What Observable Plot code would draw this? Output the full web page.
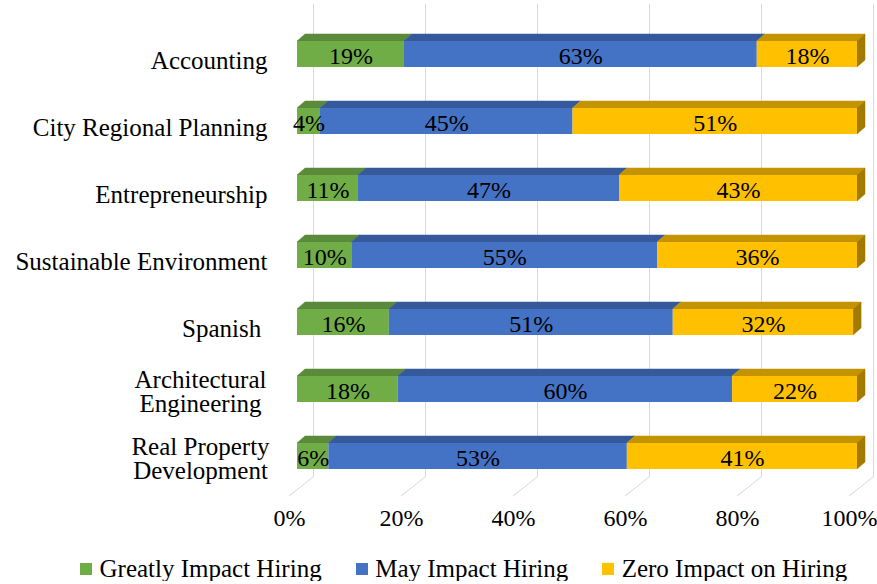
<!DOCTYPE html>
<html>
<head>
<meta charset="utf-8">
<script src="https://cdn.jsdelivr.net/npm/d3@7"></script>
<script src="https://cdn.jsdelivr.net/npm/@observablehq/plot@0.6"></script>
<style>
  html, body { margin: 0; padding: 0; background: #fff; }
  #chart { width: 877px; }
  .legend { display: flex; align-items: center; margin-top: 8px; padding-left: 80px;
            font-family: "Liberation Serif", "Times New Roman", serif; font-size: 25px; line-height: 25px; color: #000; }
  .legend .item { display: flex; align-items: center; margin-right: 34px; white-space: nowrap; }
  .legend .sw { width: 12px; height: 12px; margin-right: 7.5px; display: inline-block; }
</style>
</head>
<body>
<div id="chart"></div>
<script>
// ---- data ----
const categories = [
  "Accounting",
  "City Regional Planning",
  "Entrepreneurship",
  "Sustainable Environment",
  "Spanish ",
  "Architectural\nEngineering",
  "Real Property\nDevelopment"
];
const series = ["Greatly Impact Hiring", "May Impact Hiring", "Zero Impact on Hiring"];
const greatlyImpact = [19.1, 4.1, 10.9, 9.7, 16.4, 18.0, 5.6];
const mayImpact     = [63.0, 45.1, 46.6, 54.6, 50.7, 59.7, 53.3];
const zeroImpact    = [17.9, 50.8, 42.5, 35.7, 32.2, 22.3, 41.1];
const xTicks = [0, 0.2, 0.4, 0.6, 0.8, 1.0];

// ---- styles ----
const frontColors = ["#70ad47", "#4472c4", "#ffc000"];
const topColors   = ["#5a8a3a", "#36599b", "#c49400"];
const sideColors  = ["#4d7a31", "#2e4d86", "#a27a00"];
const gridColor = "#d9d9d9";
const DX = 8, DY = 7;           // bar depth offsets (px)
const GB = 16, GF = -8, GD = 19; // gridline back/front offsets and floor depth

// ---- table built from arrays ----
const valuesBySeries = [greatlyImpact, mayImpact, zeroImpact];
const table = [];
categories.forEach((cat, i) => {
  let acc = 0;
  valuesBySeries.forEach((vals, si) => {
    const v = vals[i] / 100;
    table.push({cat, series: series[si], si, value: vals[i], x1: acc, x2: acc + v, last: si === valuesBySeries.length - 1});
    acc += v;
  });
});

const singleLine = categories.filter(c => !c.includes("\n"));
const multiLine = categories.filter(c => c.includes("\n"));

function faces(index, scales, values, dims) {
  const x = scales.x, y = scales.y;
  const bw = typeof y.bandwidth === "function" ? y.bandwidth() : y.bandwidth;
  const g = d3.create("svg:g");
  for (const d of table) {
    const xa = x(d.x1), xb = x(d.x2), yt = y(d.cat);
    g.append("polygon")
      .attr("points", [[xa, yt], [xb, yt], [xb + DX, yt - DY], [xa + DX, yt - DY]].map(p => p.join(",")).join(" "))
      .attr("fill", topColors[d.si]).attr("stroke", topColors[d.si]).attr("stroke-width", 0.5);
    if (d.last) {
      g.append("polygon")
        .attr("points", [[xb, yt], [xb, yt + bw], [xb + DX, yt + bw - DY], [xb + DX, yt - DY]].map(p => p.join(",")).join(" "))
        .attr("fill", sideColors[d.si]).attr("stroke", sideColors[d.si]).attr("stroke-width", 0.5);
    }
  }
  return g.node();
}

function floorLines(index, scales, values, dims) {
  const x = scales.x;
  const yb = dims.height - dims.marginBottom;
  const g = d3.create("svg:g").attr("stroke", gridColor).attr("stroke-width", 1).attr("fill", "none");
  for (const t of xTicks) {
    g.append("line")
      .attr("x1", x(t) + GB).attr("y1", yb)
      .attr("x2", x(t) + GF).attr("y2", yb + GD);
  }
  return g.node();
}

const plot = Plot.plot({
  width: 877,
  height: 548,
  marginLeft: 297,
  marginRight: 20,
  marginTop: 4,
  marginBottom: 71,
  style: {fontFamily: "Liberation Serif, Times New Roman, serif", fontSize: "24px", background: "#fff", color: "#000"},
  x: {domain: [0, 1], axis: null},
  y: {domain: categories, axis: null, paddingInner: 0.605, paddingOuter: 0.301, align: 0.82},
  color: {domain: series, range: frontColors},
  marks: [
    Plot.ruleX(xTicks, {x: d => d, dx: GB, stroke: gridColor, strokeWidth: 1}),
    floorLines,
    faces,
    Plot.barX(table, {y: "cat", x1: "x1", x2: "x2", fill: "series"}),
    Plot.text(table, {y: "cat", x: d => (d.x1 + d.x2) / 2, text: d => `${Math.round(d.value)}%`, fontSize: 24, fill: "#000", dy: 2}),
    Plot.text(singleLine, {y: d => d, x: 0, text: d => d.replace(/ $/, "\u00a0"), textAnchor: "end", dx: -30, dy: 6, fontSize: 25, fill: "#000"}),
    Plot.text(multiLine, {y: d => d, x: 0, text: d => d, textAnchor: "middle", dx: -97, dy: 3, fontSize: 25, lineHeight: 0.93, fill: "#000"}),
    Plot.text(xTicks, {x: d => d, text: d => `${Math.round(d * 100)}%`, frameAnchor: "bottom", dy: 48, dx: -8, fontSize: 24, fill: "#000"})
  ]
});

const chart = document.getElementById("chart");
chart.appendChild(plot);

const legend = document.createElement("div");
legend.className = "legend";
series.forEach((s, i) => {
  const item = document.createElement("div");
  item.className = "item";
  const sw = document.createElement("span");
  sw.className = "sw";
  sw.style.background = frontColors[i];
  const label = document.createElement("span");
  label.textContent = s;
  item.appendChild(sw);
  item.appendChild(label);
  legend.appendChild(item);
});
chart.appendChild(legend);
</script>
</body>
</html>
